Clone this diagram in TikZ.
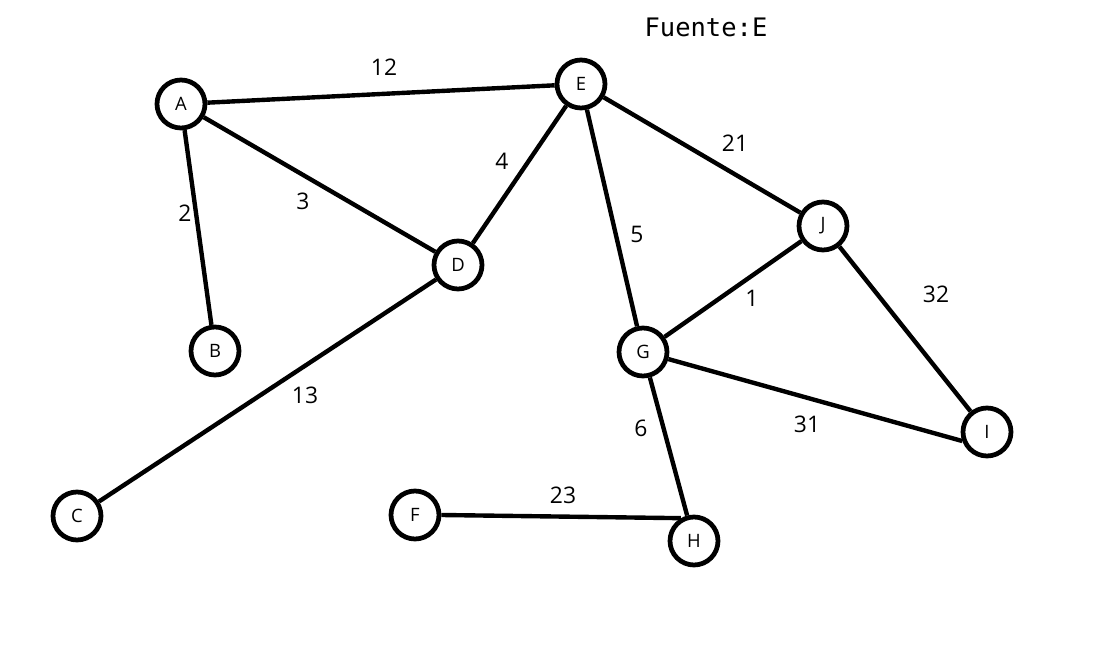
\documentclass[tikz,border=0pt]{standalone}
\usepackage{fontspec}
\setmainfont{Open Sans}
\newfontfamily\monofont{DejaVu Sans Mono}
\begin{document}
\begin{tikzpicture}[x=0.02cm,y=-0.02cm,
  vertex/.style={circle,draw,line width=2.7pt,minimum size=0.96cm,inner sep=0pt,font=\fontsize{10.5}{12}\selectfont,fill=white},
  edge/.style={line width=2.5pt},
  wt/.style={font=\fontsize{13}{15}\selectfont}]
\useasboundingbox (0,0) rectangle (1100,672);
\fill[white] (0,0) rectangle (1100,672);
% vertices
\node[vertex] (A) at (181,104) {A};
\node[vertex] (B) at (215,351) {B};
\node[vertex] (C) at (77,516) {C};
\node[vertex] (D) at (458,265) {D};
\node[vertex] (E) at (581,84) {E};
\node[vertex] (F) at (415,515) {F};
\node[vertex] (G) at (643,352) {G};
\node[vertex] (H) at (694,541) {H};
\node[vertex] (I) at (987,432) {I};
\node[vertex] (J) at (823,226) {J};
% weighted edges
\draw[edge] (A) -- (E);
\draw[edge] (A) -- (B);
\draw[edge] (A) -- (D);
\draw[edge] (D) -- (E);
\draw[edge] (D) -- (C);
\draw[edge] (E) -- (J);
\draw[edge] (E) -- (G);
\draw[edge] (J) -- (G);
\draw[edge] (J) -- (I);
\draw[edge] (G) -- (I.200);
\draw[edge] (G) -- (H);
\draw[edge] (F.east) -- (H.120);
% weights
\node[wt] (w12) at (384,67) {12};
\node[wt] (w2) at (185,213) {2};
\node[wt] (w3) at (303,201) {3};
\node[wt] (w4) at (502,161) {4};
\node[wt] (w21) at (735,143) {21};
\node[wt] (w5) at (637,234) {5};
\node[wt] (w1) at (752,298) {1};
\node[wt] (w32) at (936,294) {32};
\node[wt] (w13) at (305,395) {13};
\node[wt] (w6) at (641,428) {6};
\node[wt] (w31) at (807,424) {31};
\node[wt] (w23) at (563,495) {23};
% source caption
\node[font=\monofont\fontsize{14.5}{17}\selectfont] (src) at (706,27) {Fuente:E};
\end{tikzpicture}
\end{document}
